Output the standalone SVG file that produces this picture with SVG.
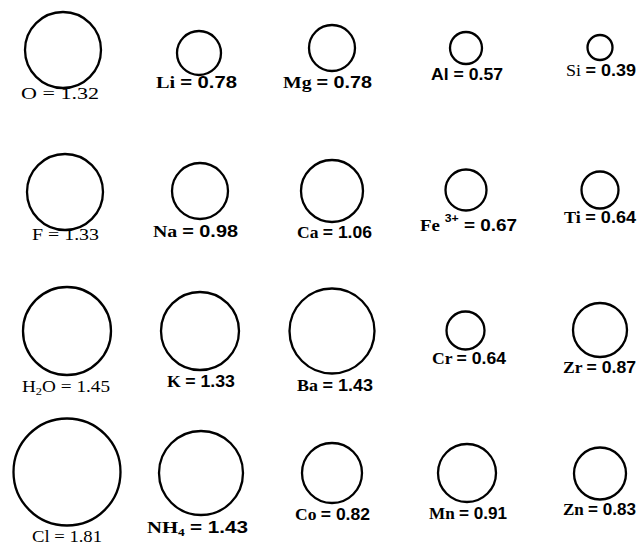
<svg xmlns="http://www.w3.org/2000/svg" width="640" height="547" viewBox="0 0 640 547">
<style>
circle{fill:none;stroke:#000;stroke-width:2.3}
text{font-family:"Liberation Serif","Times New Roman",serif;font-size:17px;fill:#000;text-anchor:middle}
.b{font-weight:bold}
.n{font-family:"Liberation Sans",Arial,sans-serif;font-weight:bold}
.l{font-weight:normal}
.sup{font-size:11px}
.sub{font-size:11px}
</style>
<rect width="640" height="547" fill="#fff"/>
<g id="O"><circle cx="63" cy="50" r="38"/><text class="l" x="60" y="99" textLength="78" lengthAdjust="spacingAndGlyphs">O = 1.32</text></g>
<g id="Li"><circle cx="199" cy="53" r="22"/><text class="b" x="196.5" y="88" textLength="81" lengthAdjust="spacingAndGlyphs">Li <tspan class="n">= 0.78</tspan></text></g>
<g id="Mg"><circle cx="332" cy="48" r="23"/><text class="b" x="327.5" y="88" textLength="89" lengthAdjust="spacingAndGlyphs">Mg <tspan class="n">= 0.78</tspan></text></g>
<g id="Al"><circle cx="466" cy="48" r="16"/><text class="n" x="467" y="80" textLength="72" lengthAdjust="spacingAndGlyphs">Al = 0.57</text></g>
<g id="Si"><circle cx="600" cy="47.5" r="12.5"/><text x="601" y="76" textLength="70" lengthAdjust="spacingAndGlyphs">Si <tspan class="n" font-weight="normal">= 0.39</tspan></text></g>

<g id="F"><circle cx="65" cy="192" r="38"/><text class="l" x="65.5" y="240" textLength="67" lengthAdjust="spacingAndGlyphs">F = 1.33</text></g>
<g id="Na"><circle cx="200" cy="191" r="28"/><text class="b" x="195.5" y="237" textLength="85" lengthAdjust="spacingAndGlyphs">Na <tspan class="n">= 0.98</tspan></text></g>
<g id="Ca"><circle cx="332" cy="191" r="31"/><text class="b" x="334.5" y="238" textLength="75" lengthAdjust="spacingAndGlyphs">Ca <tspan class="n">= 1.06</tspan></text></g>
<g id="Fe"><circle cx="466" cy="190" r="20.5"/><text class="b" x="468.5" y="231" textLength="97" lengthAdjust="spacingAndGlyphs">Fe <tspan class="n sup" dy="-9">3+</tspan><tspan class="n" dy="9"> = 0.67</tspan></text></g>
<g id="Ti"><circle cx="600" cy="190" r="18.5"/><text class="b" x="600" y="223" textLength="72" lengthAdjust="spacingAndGlyphs">Ti <tspan class="n">= 0.64</tspan></text></g>

<g id="H2O"><circle cx="67" cy="331" r="44"/><text class="l" x="66" y="392" textLength="88" lengthAdjust="spacingAndGlyphs">H<tspan class="sub" dy="3">2</tspan><tspan dy="-3">O = 1.45</tspan></text></g>
<g id="K"><circle cx="200" cy="331" r="39"/><text class="b" x="201" y="387" textLength="68" lengthAdjust="spacingAndGlyphs">K <tspan class="n">= 1.33</tspan></text></g>
<g id="Ba"><circle cx="332" cy="331" r="42.5"/><text class="b" x="335" y="391" textLength="76" lengthAdjust="spacingAndGlyphs">Ba <tspan class="n">= 1.43</tspan></text></g>
<g id="Cr"><circle cx="465.5" cy="330.5" r="19"/><text class="b" x="469" y="364" textLength="74" lengthAdjust="spacingAndGlyphs">Cr <tspan class="n">= 0.64</tspan></text></g>
<g id="Zr"><circle cx="600" cy="330" r="27"/><text class="b" x="599.5" y="373" textLength="73" lengthAdjust="spacingAndGlyphs">Zr <tspan class="n">= 0.87</tspan></text></g>

<g id="Cl"><circle cx="67" cy="472" r="53.5"/><text class="l" x="67" y="542" textLength="70" lengthAdjust="spacingAndGlyphs">Cl = 1.81</text></g>
<g id="NH4"><circle cx="201" cy="473" r="42"/><text class="b" x="197.5" y="533" textLength="101" lengthAdjust="spacingAndGlyphs">NH<tspan class="sub" dy="3">4</tspan><tspan dy="-3"> <tspan class="n">= 1.43</tspan></tspan></text></g>
<g id="Co"><circle cx="332" cy="473" r="30"/><text class="b" x="332.5" y="520" textLength="75" lengthAdjust="spacingAndGlyphs">Co <tspan class="n">= 0.82</tspan></text></g>
<g id="Mn"><circle cx="467" cy="473" r="29"/><text class="b" x="468" y="519" textLength="78" lengthAdjust="spacingAndGlyphs">Mn <tspan class="n">= 0.91</tspan></text></g>
<g id="Zn"><circle cx="600" cy="473.5" r="26"/><text class="b" x="599.5" y="515" textLength="73" lengthAdjust="spacingAndGlyphs">Zn <tspan class="n">= 0.83</tspan></text></g>
<g id="connectors"/>
</svg>
